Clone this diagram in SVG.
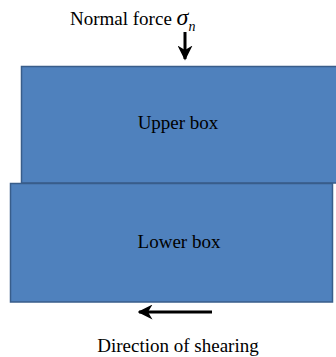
<svg xmlns="http://www.w3.org/2000/svg" width="336" height="357" viewBox="0 0 336 357">
<style>
.box{fill:#4F81BD;stroke:#385D8A;stroke-width:1.5}
.t{font-family:"Liberation Serif","Times New Roman",serif;font-size:19px;fill:#000}
.arr{stroke:#000;stroke-width:3;fill:none}
</style>
<defs>
<marker id="ah" viewBox="0 0 10 10" refX="9" refY="5" markerWidth="5" markerHeight="5" orient="auto" markerUnits="strokeWidth">
<path d="M0,0 L10,5 L0,10 L3,5 Z" fill="#000"/>
</marker>
</defs>
<rect width="336" height="357" fill="#fff"/>
<g id="upper">
<rect class="box" x="21.5" y="66.5" width="320" height="116.5"/>
<text class="t" x="178" y="129" text-anchor="middle">Upper box</text>
</g>
<g id="lower">
<rect class="box" x="10.5" y="183.5" width="322" height="118.5"/>
<text class="t" x="179" y="248" text-anchor="middle">Lower box</text>
</g>
<g id="normal-label">
<text class="t" x="70" y="25">Normal force <tspan font-style="italic" font-size="24px">σ</tspan><tspan font-style="italic" font-size="14px" dy="6">n</tspan></text>
</g>
<g id="shear-label">
<text class="t" x="178" y="352" text-anchor="middle" font-size="20px">Direction of shearing</text>
</g>
<g id="connectors">
<line class="arr" x1="185" y1="32" x2="185" y2="59" marker-end="url(#ah)"/>
<line class="arr" x1="212" y1="312" x2="139" y2="312" marker-end="url(#ah)"/>
</g>
</svg>
